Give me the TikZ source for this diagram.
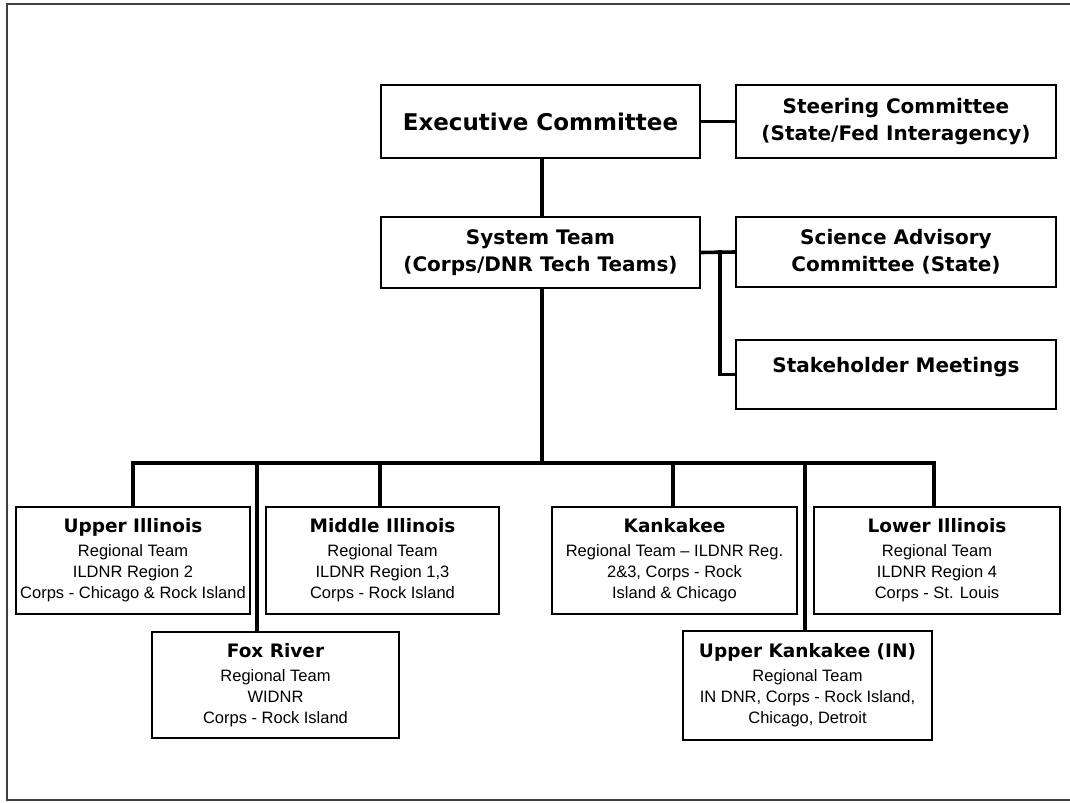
\documentclass[tikz,border=0pt]{standalone}
\usepackage{fontspec}
\setmainfont{Liberation Sans}
\newfontfamily\hdfont{DejaVu Sans}
\newcommand{\hdr}[2]{{\fontsize{#1}{#1}\hdfont\bfseries #2}}
\tikzset{
  box/.style={draw=black, line width=1.6bp, fill=white, inner sep=0pt, align=center, anchor=center},
  topbox/.style={box, font=\fontsize{20bp}{27bp}\hdfont\bfseries},
  regbox/.style={box, font=\fontsize{16.5bp}{21bp}\selectfont},
  conn/.style={draw=black, line width=3.6bp},
  frame/.style={draw=black!75, line width=2bp}
}
\begin{document}
\begin{tikzpicture}[x=1bp, y=-1bp]
\useasboundingbox (0,0) rectangle (1070,803);
% outer frame
\draw[frame] (1070,4) -- (7,4) -- (7,800) -- (1070,800);

% top boxes
\node[box, minimum width=319bp, minimum height=73bp] (exec) at (540.5,121.5) {\raisebox{-3bp}{\hdr{23bp}{Executive Committee}}};
\node[topbox, minimum width=320bp, minimum height=73bp] (steer) at (896,121.5) {Steering Committee\\(State/Fed Interagency)};
\node[topbox, minimum width=319bp, minimum height=71bp] (sys) at (540.5,252.5) {System Team\\(Corps/DNR Tech Teams)};
\node[topbox, minimum width=320bp, minimum height=70bp] (sci) at (896,252) {Science Advisory\\Committee (State)};
\node[topbox, minimum width=320bp, minimum height=69bp] (stake) at (896,374.5) {\smash{\raisebox{2bp}{Stakeholder Meetings}}};

% regional boxes
\node[regbox, minimum width=234bp, minimum height=107bp] (ui) at (133,560.5)
  {\hdr{18.5bp}{Upper Illinois}\\[3bp] Regional Team\\ ILDNR Region 2\\ Corps - Chicago \& Rock Island};
\node[regbox, minimum width=233bp, minimum height=107bp] (mi) at (382.5,560.5)
  {\hdr{18.5bp}{Middle Illinois}\\[3bp] Regional Team\\ ILDNR Region 1,3\\ Corps - Rock Island};
\node[regbox, minimum width=245bp, minimum height=107bp] (kk) at (674.5,560.5)
  {\hdr{18.5bp}{Kankakee}\\[3bp] Regional Team -- ILDNR Reg.\\ 2\&3, Corps - Rock\\ Island \& Chicago};
\node[regbox, minimum width=246bp, minimum height=107bp] (li) at (937,560.5)
  {\hdr{18.5bp}{Lower Illinois}\\[3bp] Regional Team\\ ILDNR Region 4\\ Corps - St. Louis};
\node[regbox, minimum width=247bp, minimum height=106bp] (fox) at (275.5,685)
  {\hdr{18.5bp}{Fox River}\\[3bp] Regional Team\\ WIDNR\\ Corps - Rock Island};
\node[regbox, minimum width=249bp, minimum height=109bp] (uk) at (807.5,685.5)
  {\hdr{18.5bp}{Upper Kankakee (IN)}\\[3bp] Regional Team\\ IN DNR, Corps - Rock Island,\\ Chicago, Detroit};

% connectors
\coordinate (sysbot) at (542,288);
\coordinate (exbot) at (542,158);
\coordinate (systop) at (542,217);
\coordinate (bus) at (542,463);
\coordinate (busL) at (133,463);
\coordinate (busR) at (934,463);
\coordinate (j) at (720,252);
\coordinate (foxtop) at (257,632);
\coordinate (uktop) at (805,631);
\coordinate (mitop) at (380,507);
\coordinate (kktop) at (673,507);
\coordinate (litop) at (934,507);

\draw[conn] (exbot) -- (systop);
\draw[conn] (exec.east) -- (steer.west);
\draw[conn] (sys.east) -- (sci.west);
\draw[conn, line cap=rect] (j) |- (stake.west);
\draw[conn] (sysbot) -- (bus);
\draw[conn, line cap=rect] (busL) -- (busR);
\draw[conn] (busL) -- (ui.north);
\draw[conn] (mitop |- bus) -- (mitop);
\draw[conn] (foxtop |- bus) -- (foxtop);
\draw[conn] (kktop |- bus) -- (kktop);
\draw[conn] (uktop |- bus) -- (uktop);
\draw[conn] (litop |- bus) -- (litop);
\end{tikzpicture}
\end{document}
